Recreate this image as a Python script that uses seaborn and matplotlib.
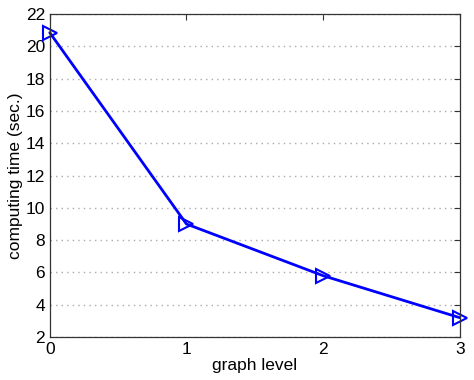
import seaborn as sns
import matplotlib.pyplot as plt
import pandas as pd

graph_level = [0, 1, 2, 3]
computing_time = [20.85, 9.0, 5.8, 3.2]
y_ticks = [2, 4, 6, 8, 10, 12, 14, 16, 18, 20, 22]

sns.set_style('white')
plt.rcParams['font.family'] = ['Liberation Sans', 'DejaVu Sans']
plt.rcParams['text.color'] = 'black'
plt.rcParams['axes.labelcolor'] = 'black'
plt.rcParams['xtick.color'] = 'black'
plt.rcParams['ytick.color'] = 'black'

df = pd.DataFrame({'graph level': graph_level, 'computing time': computing_time})

fig = plt.figure(figsize=(4.74, 3.8), dpi=100)
ax = fig.add_axes([0.105, 0.113, 0.865, 0.85])

sns.lineplot(data=df, x='graph level', y='computing time', ax=ax,
             color='#0000ff', linewidth=2, marker='>', markersize=10,
             markerfacecolor='none', markeredgecolor='#0000ff', markeredgewidth=1.5,
             clip_on=False)

ax.set_xlim(0, 3)
ax.set_ylim(2, 22)
ax.set_xticks(graph_level)
ax.set_yticks(y_ticks)
ax.yaxis.grid(True, linestyle=(0, (1, 3)), color='#aaaaaa', linewidth=1)
ax.set_axisbelow(True)
ax.tick_params(direction='in', length=4, labelsize=12.5, color='#333333',
               top=True, right=True, labelcolor='black')
for s in ax.spines.values():
    s.set_color('#333333')
    s.set_linewidth(0.9)
ax.set_xlabel('graph level', fontsize=12.5, labelpad=1, color='black')
ax.set_ylabel('computing time (sec.)', fontsize=12.5, labelpad=2, color='black')

fig.savefig('out.png', dpi=100)
